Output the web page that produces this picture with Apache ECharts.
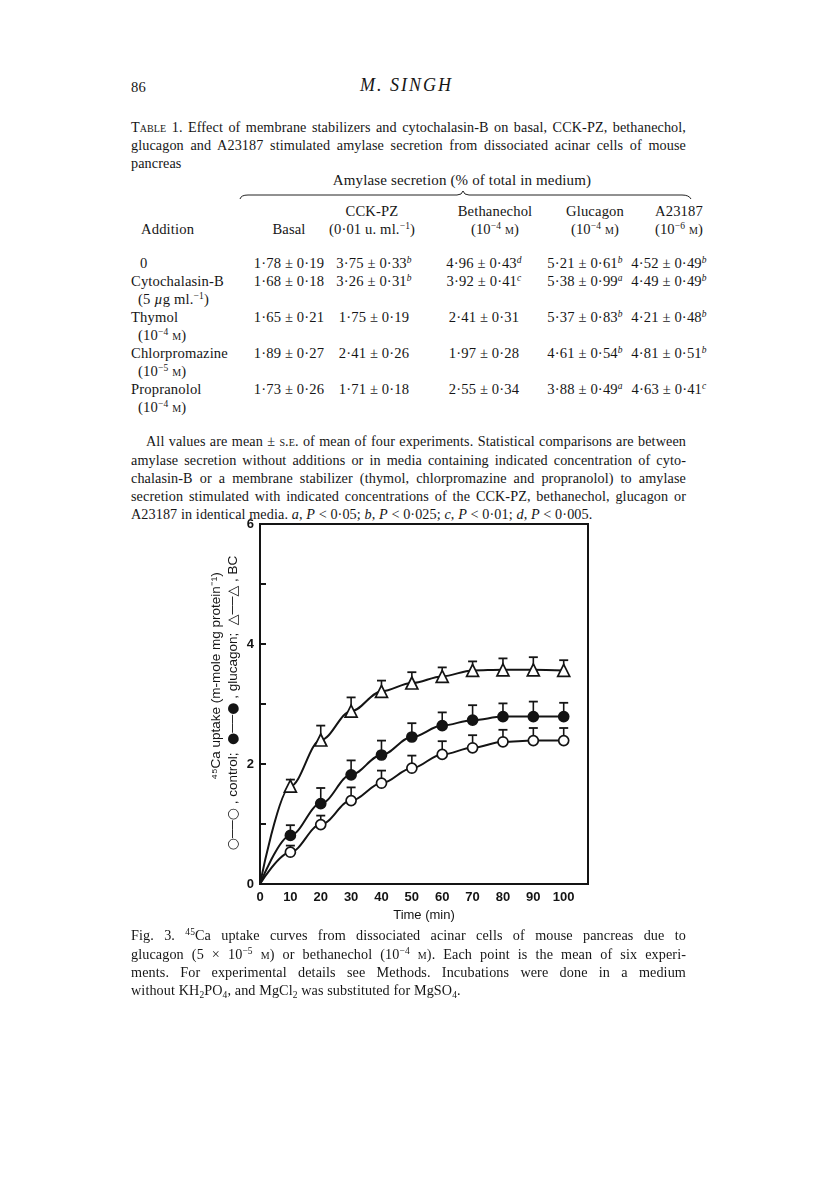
<!DOCTYPE html>
<html><head><meta charset="utf-8">
<script src="https://cdn.jsdelivr.net/npm/echarts@6/dist/echarts.min.js"></script>
<style>
body{margin:0;background:#fff;width:816px;height:1185px;position:relative;font-family:"Liberation Serif",serif;color:#161616;overflow:hidden;}
.l{position:absolute;left:131px;width:555px;font-size:14.2px;line-height:18px;height:18px;white-space:nowrap;letter-spacing:0.1px;}
.j{text-align:justify;text-align-last:justify;transform-origin:0 50%;}
.c{position:absolute;width:400px;text-align:center;font-size:14.6px;line-height:18px;white-space:nowrap;letter-spacing:0.15px;}
.a{position:absolute;font-size:14.6px;line-height:18px;white-space:nowrap;letter-spacing:0.15px;}
.sc{font-variant:small-caps;}
sup{font-size:9.5px;line-height:0;vertical-align:5px;font-style:italic;}
.ex{font-size:9.5px;vertical-align:5px;line-height:0;}
sub{font-size:9.5px;line-height:0;vertical-align:-3px;}
#chart{position:absolute;left:180px;top:510px;width:440px;height:420px;}
</style></head>
<body>
<div class="a" style="left:131px;top:78px;">86</div>
<div class="a" style="left:360px;top:76px;font-size:18px;font-style:italic;letter-spacing:2px;">M. SINGH</div>

<div class="l j" style="top:118px;"><span class="sc">Table</span> 1. Effect of membrane stabilizers and cytochalasin-B on basal, CCK-PZ, bethanechol,</div>
<div class="l j" style="top:136px;">glucagon and A23187 stimulated amylase secretion from dissociated acinar cells of mouse</div>
<div class="l" style="top:154px;">pancreas</div>

<div class="c" style="left:262px;top:171px;font-size:15px;">Amylase secretion (% of total in medium)</div>
<svg style="position:absolute;left:238px;top:188px;" width="456" height="16">
<path d="M2,11 Q3,7 10,7 L219,7 Q224,7 225,3 Q226,7 231,7 L444,7 Q451,7 453,11" fill="none" stroke="#222" stroke-width="1"/>
</svg>
<div id="thead"></div>
<div id="tbody"></div>

<div class="l j" style="top:432px;width:540px;left:146px;">All values are mean ± <span class="sc">s.e.</span> of mean of four experiments. Statistical comparisons are between</div>
<div class="l j" style="top:451px;">amylase secretion without additions or in media containing indicated concentration of cyto-</div>
<div class="l j" style="top:469px;">chalasin-B or a membrane stabilizer (thymol, chlorpromazine and propranolol) to amylase</div>
<div class="l j" style="top:487px;">secretion stimulated with indicated concentrations of the CCK-PZ, bethanechol, glucagon or</div>
<div class="l" style="top:505px;">A23187 in identical media. <i>a</i>, <i>P</i> &lt; 0·05; <i>b</i>, <i>P</i> &lt; 0·025; <i>c</i>, <i>P</i> &lt; 0·01; <i>d</i>, <i>P</i> &lt; 0·005.</div>

<div id="chart"></div>

<div class="l j" style="top:926px;">Fig. 3. <span class="ex">45</span>Ca uptake curves from dissociated acinar cells of mouse pancreas due to</div>
<div class="l j" style="top:945px;">glucagon (5 × 10<span class="ex">−5</span> <span class="sc">m</span>) or bethanechol (10<span class="ex">−4</span> <span class="sc">m</span>). Each point is the mean of six experi-</div>
<div class="l j" style="top:963px;">ments. For experimental details see Methods. Incubations were done in a medium</div>
<div class="l" style="top:981px;">without KH<sub>2</sub>PO<sub>4</sub>, and MgCl<sub>2</sub> was substituted for MgSO<sub>4</sub>.</div>

<script>
// ---- Table 1 data ----
const additions = ['0', 'Cytochalasin-B', 'Thymol', 'Chlorpromazine', 'Propranolol'];
const additionNotes = ['', '(5 <i>µ</i>g ml.<span class="ex">−1</span>)', '(10<span class="ex">−4</span> <span class="sc">m</span>)', '(10<span class="ex">−5</span> <span class="sc">m</span>)', '(10<span class="ex">−4</span> <span class="sc">m</span>)'];
const colTitles = ['Basal', 'CCK-PZ', 'Bethanechol', 'Glucagon', 'A23187'];
const colUnits = ['', '(0·01 u. ml.<span class="ex">−1</span>)', '(10<span class="ex">−4</span> <span class="sc">m</span>)', '(10<span class="ex">−4</span> <span class="sc">m</span>)', '(10<span class="ex">−6</span> <span class="sc">m</span>)'];
const basalMean = ['1·78', '1·68', '1·65', '1·89', '1·73'];
const basalSE = ['0·19', '0·18', '0·21', '0·27', '0·26'];
const basalSig = ['', '', '', '', ''];
const cckMean = ['3·75', '3·26', '1·75', '2·41', '1·71'];
const cckSE = ['0·33', '0·31', '0·19', '0·26', '0·18'];
const cckSig = ['b', 'b', '', '', ''];
const bethMean = ['4·96', '3·92', '2·41', '1·97', '2·55'];
const bethSE = ['0·43', '0·41', '0·31', '0·28', '0·34'];
const bethSig = ['d', 'c', '', '', ''];
const glucMean = ['5·21', '5·38', '5·37', '4·61', '3·88'];
const glucSE = ['0·61', '0·99', '0·83', '0·54', '0·49'];
const glucSig = ['b', 'a', 'b', 'b', 'a'];
const a23Mean = ['4·52', '4·49', '4·21', '4·81', '4·63'];
const a23SE = ['0·49', '0·49', '0·48', '0·51', '0·41'];
const a23Sig = ['b', 'b', 'b', 'b', 'c'];

// ---- Fig. 3 data ----
const times = [10, 20, 30, 40, 50, 60, 70, 80, 90, 100];
const control = [0.53, 0.99, 1.39, 1.68, 1.93, 2.16, 2.27, 2.37, 2.39, 2.39];
const controlSE = [0.11, 0.15, 0.22, 0.21, 0.21, 0.22, 0.21, 0.20, 0.21, 0.21];
const glucagon = [0.81, 1.34, 1.82, 2.15, 2.45, 2.64, 2.73, 2.79, 2.79, 2.79];
const glucagonSE = [0.17, 0.26, 0.24, 0.24, 0.23, 0.22, 0.25, 0.22, 0.25, 0.23];
const bethanechol = [1.63, 2.40, 2.88, 3.21, 3.35, 3.46, 3.56, 3.57, 3.57, 3.56];
const bethanecholSE = [0.11, 0.24, 0.23, 0.18, 0.18, 0.15, 0.15, 0.19, 0.21, 0.17];
const xTicks = [0, 10, 20, 30, 40, 50, 60, 70, 80, 90, 100];
const yTickLabels = [0, 2, 4, 6];

// ---- build table ----
(function(){
  const headCenters = [289, 372, 495, 595, 679];
  const valCenters = [289, 374, 484, 585, 669];
  let h = '';
  colTitles.forEach((t, i) => {
    const top1 = 202, top2 = 220;
    if (colUnits[i]) {
      h += `<div class="c" style="left:${headCenters[i]-200}px;top:${top1}px">${t}</div>`;
      h += `<div class="c" style="left:${headCenters[i]-200}px;top:${top2}px">${colUnits[i]}</div>`;
    } else {
      h += `<div class="c" style="left:${headCenters[i]-200}px;top:${top2}px">${t}</div>`;
    }
  });
  h += `<div class="a" style="left:141px;top:220px">Addition</div>`;
  document.getElementById('thead').innerHTML = h;
  const cols = [[basalMean, basalSE, basalSig], [cckMean, cckSE, cckSig], [bethMean, bethSE, bethSig], [glucMean, glucSE, glucSig], [a23Mean, a23SE, a23Sig]];
  const rowTops = [254, 272, 308, 344, 380];
  let b = '';
  additions.forEach((a, r) => {
    const left = r === 0 ? 140 : 131;
    b += `<div class="a" style="left:${left}px;top:${rowTops[r]}px">${a}</div>`;
    if (additionNotes[r]) b += `<div class="a" style="left:138px;top:${rowTops[r]+18}px">${additionNotes[r]}</div>`;
    cols.forEach((c, k) => {
      const sig = c[2][r] ? `<sup>${c[2][r]}</sup>` : '';
      b += `<div class="c" style="left:${valCenters[k]-200}px;top:${rowTops[r]}px">${c[0][r]} ± ${c[1][r]}${sig}</div>`;
    });
  });
  document.getElementById('tbody').innerHTML = b;
})();

// fit justified lines that would overflow their box
document.querySelectorAll('.j').forEach(el => {
  const w = el.clientWidth, sw = el.scrollWidth;
  if (sw > w + 0.5) el.style.transform = `scaleX(${w / sw})`;
});

// ---- chart ----
const chart = echarts.init(document.getElementById('chart'), null, {renderer: 'canvas'});
const ink = '#141414';
function lineData(vals) {
  return [{value: [0, 0], symbol: 'none'}].concat(times.map((t, i) => [t, vals[i]]));
}
function errData(vals, se) {
  return times.map((t, i) => [t, vals[i], vals[i] + se[i]]);
}
function errItem(params, api) {
  const p0 = api.coord([api.value(0), api.value(1)]);
  const p1 = api.coord([api.value(0), api.value(2)]);
  return {type: 'group', children: [
    {type: 'line', shape: {x1: p0[0], y1: p0[1], x2: p1[0], y2: p1[1]}, style: {stroke: ink, lineWidth: 1.6}},
    {type: 'line', shape: {x1: p1[0] - 4.5, y1: p1[1], x2: p1[0] + 4.5, y2: p1[1]}, style: {stroke: ink, lineWidth: 1.8}}
  ]};
}
function lineSeries(name, vals, symbol, size, fill) {
  return {
    name, type: 'line', data: lineData(vals), smooth: 0.35, smoothMonotone: 'x',
    symbol, symbolSize: size, z: 3,
    lineStyle: {color: ink, width: 2},
    itemStyle: {color: fill, borderColor: ink, borderWidth: 1.7},
    emphasis: {disabled: true}
  };
}
function errSeries(vals, se) {
  return {type: 'custom', renderItem: errItem, data: errData(vals, se), z: 2, silent: true};
}
const fontFam = '"Liberation Sans", Arial, sans-serif';
chart.setOption({
  animation: false,
  grid: {left: 80, top: 14, width: 328, height: 360, show: true, borderColor: ink, borderWidth: 2, backgroundColor: 'transparent'},
  xAxis: {
    type: 'value', min: 0, max: 108, interval: 10,
    axisLine: {show: true, lineStyle: {color: ink, width: 2}},
    axisTick: {show: false},
    splitLine: {show: false},
    axisLabel: {color: ink, fontFamily: fontFam, fontSize: 13, fontWeight: 'bold', margin: 7,
      formatter: v => xTicks.indexOf(v) >= 0 ? String(v) : ''},
    name: 'Time (min)', nameLocation: 'middle', nameGap: 23,
    nameTextStyle: {color: ink, fontFamily: fontFam, fontSize: 13}
  },
  yAxis: {
    type: 'value', min: 0, max: 6, interval: 1,
    axisLine: {show: true, lineStyle: {color: ink, width: 2}},
    axisTick: {show: true, inside: true, length: 6, lineStyle: {color: ink, width: 2}},
    splitLine: {show: false},
    axisLabel: {color: ink, fontFamily: fontFam, fontSize: 13, fontWeight: 'bold', margin: 6,
      formatter: v => yTickLabels.indexOf(v) >= 0 ? String(v) : ''}
  },
  graphic: [
    {type: 'text', x: 36, y: 166, rotation: Math.PI / 2,
      style: {text: '⁴⁵Ca uptake (m-mole mg protein⁻¹)', fill: ink, font: '13.5px ' + fontFam, textAlign: 'center', textVerticalAlign: 'middle'}},
    {type: 'text', x: 53, y: 193, rotation: Math.PI / 2,
      style: {
        text: '{s|○}{d|——}{s|○} , control;  {s|●}{d|——}{s|●} , glucagon;  {s|△}{d|——}{s|△} , BC',
        fill: ink, font: '13.5px ' + fontFam, textAlign: 'center', textVerticalAlign: 'middle',
        rich: {
          s: {fontSize: 14, fontFamily: '"DejaVu Sans", sans-serif', fill: ink},
          d: {fontSize: 9, fontFamily: fontFam, fill: ink, fontWeight: 'bold'}
        }
      }}
  ],
  series: [
    errSeries(control, controlSE),
    errSeries(glucagon, glucagonSE),
    errSeries(bethanechol, bethanecholSE),
    lineSeries('control', control, 'circle', 10, '#fff'),
    lineSeries('glucagon', glucagon, 'circle', 10, ink),
    lineSeries('BC', bethanechol, 'triangle', 12, '#fff')
  ]
});
</script>
</body></html>
